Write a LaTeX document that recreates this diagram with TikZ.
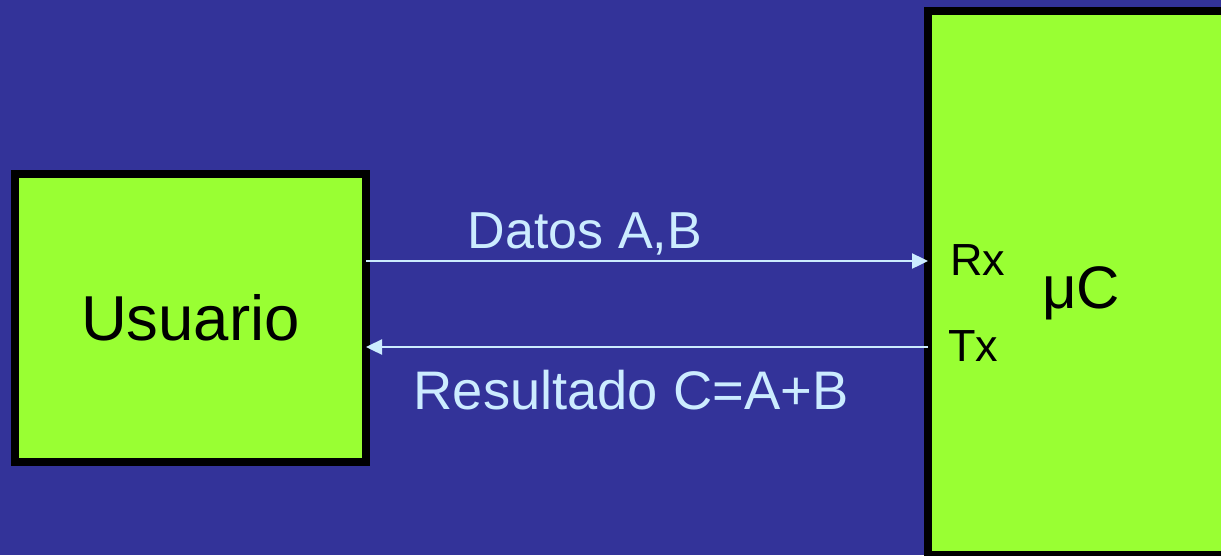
\documentclass[tikz,border=0pt]{standalone}
\usepackage{fontspec}
\setmainfont{Liberation Sans}
\usetikzlibrary{arrows.meta}
\definecolor{bgblue}{HTML}{333399}
\definecolor{boxgreen}{HTML}{99FF33}
\definecolor{lightblue}{HTML}{CCECFF}
\tikzset{
  blockbox/.style={draw=black, line width=8pt, fill=boxgreen, rectangle, outer sep=0pt, inner sep=0pt},
  flow/.style={draw=lightblue, line width=2.4pt, -{Triangle[length=16pt,width=15pt]}},
  flowlabel/.style={text=lightblue, inner sep=0pt, anchor=base},
  pinlabel/.style={text=black, font=\fontsize{45}{52}\selectfont, inner sep=0pt, anchor=base west},
}
\begin{document}
\begin{tikzpicture}[x=1pt,y=-1pt]
\fill[bgblue] (0,0) rectangle (1221,555);
\useasboundingbox (0,0) rectangle (1221,555);
\node[blockbox, minimum width=351pt, minimum height=288pt, font=\fontsize{63.5}{70}\selectfont] (usuario) at (190.5,318) {Usuario};
\node[blockbox, minimum width=302pt, minimum height=544pt] (uc) at (1079,283) {};
\node[pinlabel] (rx) at (950,275) {Rx};
\node[pinlabel] (tx) at (948,361) {Tx};
\node[text=black, font=\fontsize{60}{68}\selectfont, inner sep=0pt, anchor=base] (ucl) at (1081,308) {μC};
\coordinate (a1) at (usuario.east |- 0,261);
\coordinate (a2) at (uc.west |- 0,261);
\coordinate (b1) at (uc.west |- 0,347);
\coordinate (b2) at (usuario.east |- 0,347);
\draw[flow] (a1) -- (a2);
\draw[flow] (b1) -- (b2);
\node[flowlabel, font=\fontsize{52}{60}\selectfont] (datos) at (585,248) {Datos A,B};
\node[flowlabel, font=\fontsize{54.3}{60}\selectfont] (res) at (631,409) {Resultado C=A+B};
\end{tikzpicture}
\end{document}
